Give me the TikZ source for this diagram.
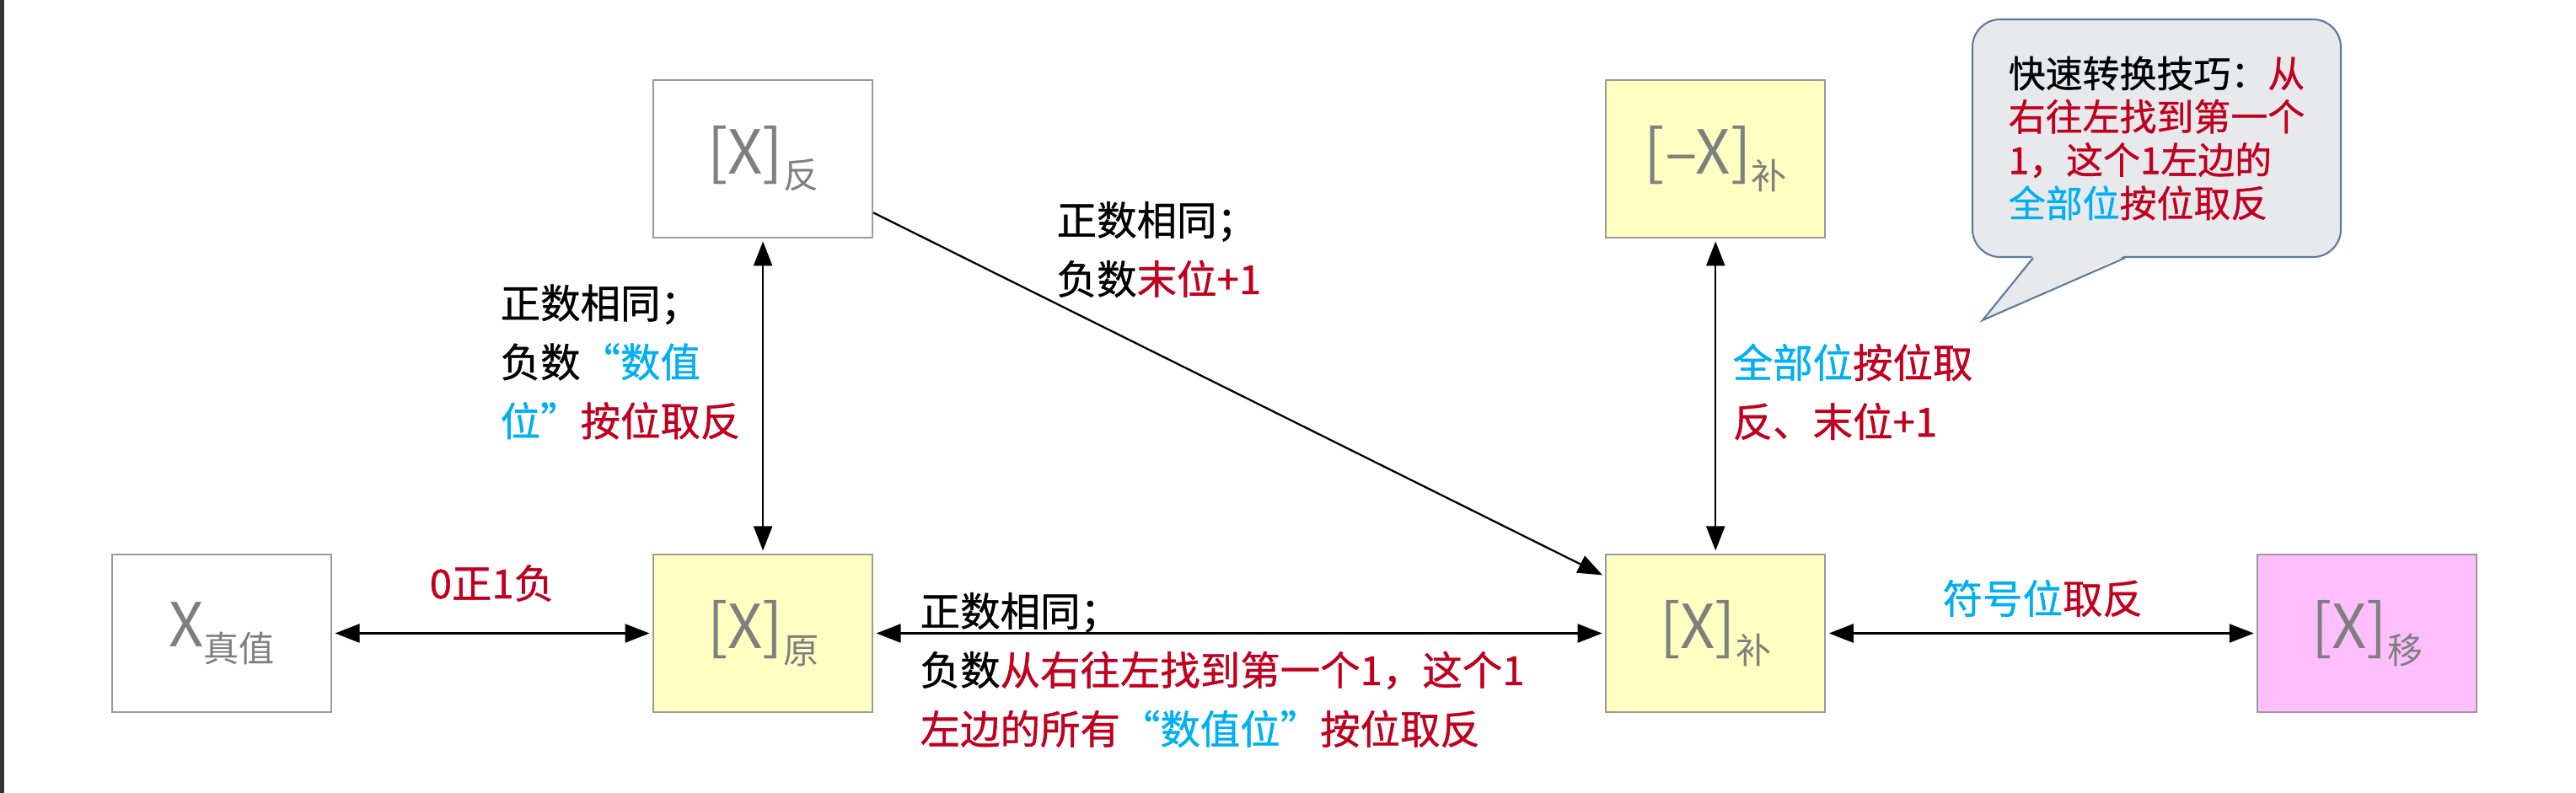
\documentclass[tikz,border=0pt]{standalone}
\usepackage{fontspec}
\setmainfont{Noto Sans CJK SC}
\newfontfamily\lblfont[FakeBold=0.8]{Noto Sans CJK SC}
\usepackage{xcolor}
\usepackage{tikz}
\usetikzlibrary{positioning,arrows.meta}

\definecolor{boxgray}{HTML}{9A9A9A}
\definecolor{txtgray}{HTML}{7F7F7F}
\definecolor{boxyellow}{HTML}{FFFFC2}
\definecolor{boxpink}{HTML}{FFBFFF}
\definecolor{hlred}{HTML}{C0001E}
\definecolor{hlblue}{HTML}{00B0F0}
\definecolor{tipfill}{HTML}{E7E9ED}
\definecolor{tipline}{HTML}{5B7C9D}

\newcommand{\codesub}[1]{\raisebox{-5pt}{\fontsize{12}{12}\selectfont #1}}
\newcommand{\hlr}[1]{\textcolor{hlred}{#1}}
\newcommand{\hlb}[1]{\textcolor{hlblue}{#1}}
\newcommand{\fwq}[1]{{\addfontfeature{CharacterWidth=Full}#1}}

\begin{document}
\begin{tikzpicture}[
	codebox/.style={draw=boxgray, line width=0.6pt, fill=white, minimum width=2.6cm,
		minimum height=1.87cm, inner sep=0pt, text=txtgray, font=\fontsize{20.5}{21}\selectfont},
	yellowbox/.style={codebox, fill=boxyellow},
	pinkbox/.style={codebox, fill=boxpink},
	lbl/.style={align=left, inner sep=0pt, font=\lblfont\fontsize{13.5}{19.9}\selectfont},
	>={Triangle[length=2.9mm,width=2.2mm]},
	conv/.style={<->, line width=0.65pt, shorten <=1pt, shorten >=1pt},
]
	\useasboundingbox (0,0) rectangle (30.56,-9.41);
	\fill[white] (0,0) rectangle (30.56,-9.41);
	\fill[black!80] (0,0) rectangle (0.05,-9.41);
	% Define nodes
	\node[codebox]                        (xval)  at (2.63,-7.515) {X\codesub{真值}};
	\node[yellowbox, right=3.8cm of xval]  (xyuan) {[X]\codesub{原}};
	\node[codebox, above=3.74cm of xyuan]  (xfan)  {[X]\codesub{反}};
	\node[yellowbox, right=8.68cm of xyuan] (xbu)  {[X]\codesub{补}};
	\node[yellowbox, above=3.74cm of xbu]  (xnbu)  {[–X]\codesub{补}};
	\node[pinkbox, right=5.11cm of xbu]    (xyi)   {[X]\codesub{移}};
	% Labels
	\node[lbl, anchor=west] (lval)    at (5.09,-6.92)  {\hlr{0正1负}};
	\node[lbl, anchor=west] (lyuanfan) at (5.93,-4.295) {正数相同；\\负数\hlb{\fwq{“}数值}\\\hlb{位\fwq{”}}\hlr{按位取反}};
	\node[lbl, anchor=west] (lfanbu)  at (12.53,-2.96) {正数相同；\\负数\hlr{末位+1}};
	\node[lbl, anchor=west] (lyuanbu) at (10.91,-7.95) {正数相同；\\负数\hlr{从右往左找到第一个1，这个1}\\\hlr{左边的所有}\hlb{\fwq{“}数值位\fwq{”}}\hlr{按位取反}};
	\node[lbl, anchor=west] (lnbu)    at (20.55,-4.65) {\hlb{全部位}\hlr{按位取}\\\hlr{反、末位+1}};
	\node[lbl, anchor=west] (lyi)     at (23.04,-7.10) {\hlb{符号位}\hlr{取反}};
	% Hint bubble
	\node[draw=tipline, fill=tipfill, line width=0.6pt, rounded corners=0.33cm,
		minimum width=4.37cm, minimum height=2.82cm, align=left,
		font=\lblfont\fontsize{12.5}{14.6}\selectfont] (hint) at (25.585,-1.64)
		{快速转换技巧：\hlr{从}\\\hlr{右往左找到第一个}\\\hlr{1，这个1左边的}\\\hlb{全部位}\hlr{按位取反}};
	\coordinate (hintptr) at (23.52,-3.80);
	\fill[tipfill] ([xshift=0.73cm,yshift=0.8pt]hint.south west) -- (hintptr)
		-- ([xshift=1.82cm,yshift=0.8pt]hint.south west) -- cycle;
	\draw[tipline, line width=0.6pt] ([xshift=0.73cm]hint.south west) -- (hintptr)
		-- ([xshift=1.82cm]hint.south west);
	% Connect the nodes
	\draw[conv] (xval) -- (xyuan);
	\draw[conv] (xyuan) -- (xbu);
	\draw[conv] (xbu) -- (xyi);
	\draw[conv] (xfan) -- (xyuan);
	\draw[conv] (xnbu) -- (xbu);
	\draw[->, line width=0.65pt, shorten >=1pt] ([yshift=-0.64cm]xfan.east) -- ([yshift=0.675cm]xbu.west);
\end{tikzpicture}
\end{document}
